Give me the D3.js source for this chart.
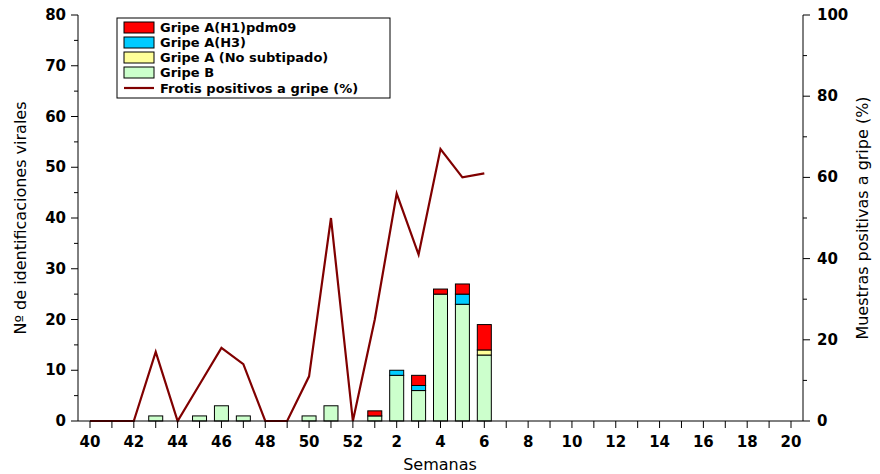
<!DOCTYPE html>
<html><head><meta charset="utf-8">
<script src="https://cdn.jsdelivr.net/npm/d3@7"></script>
<style>body{margin:0;background:#fff}text{font-family:Verdana,"DejaVu Sans",sans-serif}</style>
</head><body><svg id="c" width="880" height="474"></svg>
<script>
const weeks = [40,41,42,43,44,45,46,47,48,49,50,51,52,1,2,3,4,5,6,7,8,9,10,11,12,13,14,15,16,17,18,19,20];
const gripeB =   [0,0,0,1,0,1,3,1,0,0,1,3,0,1,9,6,25,23,13];
const noSub =    [0,0,0,0,0,0,0,0,0,0,0,0,0,0,0,0,0,0,1];
const h3 =       [0,0,0,0,0,0,0,0,0,0,0,0,0,0,1,1,0,2,0];
const h1 =       [0,0,0,0,0,0,0,0,0,0,0,0,0,1,0,2,1,2,5];
const pct =      [0,0,0,17,0,9,18,14,0,0,11,50,0,25,56,41,67,60,61];
const series = [
  {name:"Gripe B", vals:gripeB, color:"#ccffcc"},
  {name:"Gripe A (No subtipado)", vals:noSub, color:"#ffff99"},
  {name:"Gripe A(H3)", vals:h3, color:"#00ccff"},
  {name:"Gripe A(H1)pdm09", vals:h1, color:"#ff0000"}
];
const svg = d3.select("#c");
const L=78,R=803,T=15,B=421;
const x = d3.scalePoint().domain(weeks.map(String)).range([90,791]);
const y = d3.scaleLinear().domain([0,80]).range([B,T]);
const y2 = d3.scaleLinear().domain([0,100]).range([B,T]);
const bw = 14;
// bars
weeks.forEach((w,i)=>{
  let base=0;
  series.forEach(s=>{
    const v=s.vals[i]||0;
    if(v>0){
      svg.append("rect").attr("x",x(String(w))-bw/2).attr("y",y(base+v)).attr("width",bw)
        .attr("height",y(base)-y(base+v)).attr("fill",s.color).attr("stroke","#000").attr("stroke-width",1);
    }
    base+=v;
  });
});
// line
svg.append("path").datum(pct).attr("fill","none").attr("stroke","#800000").attr("stroke-width",2.2)
  .attr("d",d3.line().x((d,i)=>x(String(weeks[i]))).y(d=>y2(d)));
// axes
const ax = svg.append("g").attr("transform",`translate(0,${B})`);
ax.append("line").attr("x1",L).attr("x2",R).attr("stroke","#000");
weeks.forEach((w,i)=>{
  const big = i%2===0;
  ax.append("line").attr("x1",x(String(w))).attr("x2",x(String(w))).attr("y1",0).attr("y2",7).attr("stroke","#000");
  if(big) ax.append("text").attr("x",x(String(w))).attr("y",26).attr("text-anchor","middle")
    .attr("font-size",15).attr("font-weight","bold").text(w);
});
svg.append("line").attr("x1",L).attr("x2",L).attr("y1",T).attr("y2",B).attr("stroke","#000");
svg.append("line").attr("x1",R).attr("x2",R).attr("y1",T).attr("y2",B).attr("stroke","#000");
d3.range(0,81,5).forEach(v=>{
  const maj=v%10===0;
  svg.append("line").attr("x1",L-(maj?7:4)).attr("x2",L).attr("y1",y(v)).attr("y2",y(v)).attr("stroke","#000");
  if(maj) svg.append("text").attr("x",L-12).attr("y",y(v)+5).attr("text-anchor","end")
    .attr("font-size",15).attr("font-weight","bold").text(v);
});
d3.range(0,101,10).forEach(v=>{
  const maj=v%20===0;
  svg.append("line").attr("x1",R).attr("x2",R+(maj?7:4)).attr("y1",y2(v)).attr("y2",y2(v)).attr("stroke","#000");
  if(maj) svg.append("text").attr("x",R+14).attr("y",y2(v)+5).attr("font-size",15).attr("font-weight","bold").text(v);
});
svg.append("text").attr("transform",`translate(26,${(T+B)/2}) rotate(-90)`).attr("text-anchor","middle")
  .attr("font-size",16).text("Nº de identificaciones virales");
svg.append("text").attr("transform",`translate(868,${(T+B)/2}) rotate(-90)`).attr("text-anchor","middle")
  .attr("font-size",16).text("Muestras positivas a gripe (%)");
svg.append("text").attr("x",440).attr("y",470).attr("text-anchor","middle").attr("font-size",16).text("Semanas");
// legend
const lg = svg.append("g");
lg.append("rect").attr("x",117).attr("y",18).attr("width",273).attr("height",80).attr("fill","#fff").attr("stroke","#000");
const legItems = series.slice().reverse();
legItems.forEach((s,i)=>{
  const yy=22+i*15;
  lg.append("rect").attr("x",124).attr("y",yy).attr("width",30).attr("height",11).attr("fill",s.color).attr("stroke","#000");
  lg.append("text").attr("x",160).attr("y",yy+10).attr("font-size",13).attr("font-weight","bold").text(s.name);
});
lg.append("line").attr("x1",124).attr("x2",154).attr("y1",88).attr("y2",88).attr("stroke","#800000").attr("stroke-width",2.2);
lg.append("text").attr("x",160).attr("y",93).attr("font-size",13).attr("font-weight","bold").text("Frotis positivos a gripe (%)");
</script></body></html>
